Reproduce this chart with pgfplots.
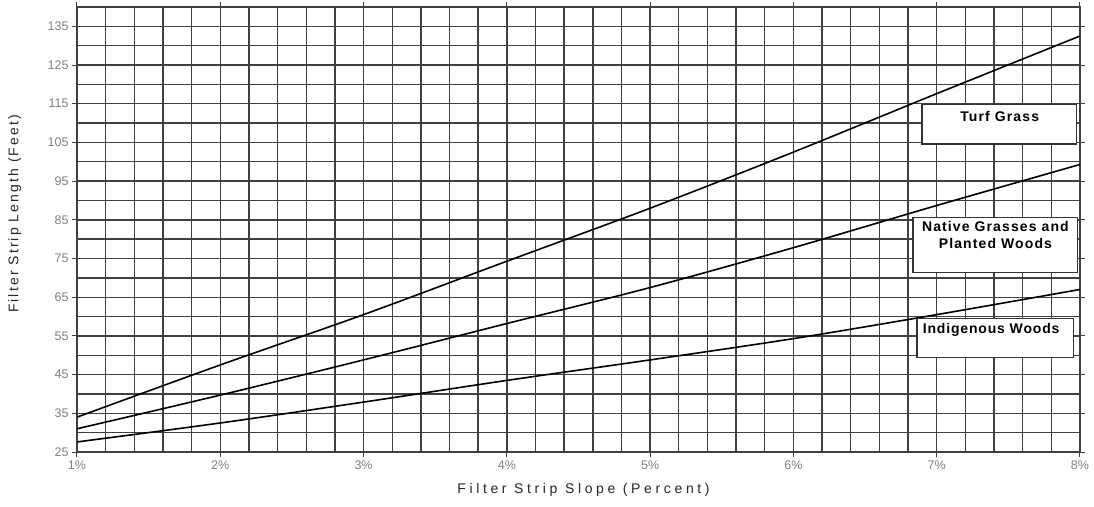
\documentclass[border=0pt]{standalone}
\usepackage{pgfplots}
\pgfplotsset{compat=1.18}
\usepackage{fontspec}
\setmainfont{Liberation Sans}
\begin{document}
\begin{tikzpicture}
\begin{axis}[
  at={(0pt,0pt)}, anchor=south west,
  width=1003pt, height=445pt, scale only axis,
  xmin=1, xmax=8, ymin=25, ymax=140,
  xtick={1,2,3,4,5,6,7,8},
  xticklabels={1\%,2\%,3\%,4\%,5\%,6\%,7\%,8\%},
  minor x tick num=4,
  ytick={25,35,45,55,65,75,85,95,105,115,125,135},
  minor y tick num=1,
  grid=both,
  major grid style={black!75, line width=1.4pt},
  minor grid style={black!75, line width=1.4pt},
  axis line style={black!75, line width=1.3pt},
  tick style={black!75, line width=1pt},
  tick align=outside, major tick length=5pt, minor tick length=0pt,
  ticklabel style={font=\fontsize{12.5}{14}\selectfont, text=black!50},
  /pgf/number format/assume math mode=true,
  every axis x label/.style={at={(axis description cs:0.505,-0.085)}, anchor=center},
  every axis y label/.style={at={(axis description cs:-0.062,0.535)}, anchor=center, rotate=90},
  xlabel={\addfontfeatures{LetterSpace=26}Filter Strip Slope (Percent)},
  ylabel={\addfontfeatures{LetterSpace=15}Filter Strip Length (Feet)},
  label style={font=\fontsize{14}{16}\selectfont, text=black!85},
]
\addplot[black, line width=1.6pt, smooth] coordinates {
  (1,34) (2,47.5) (3,60.5) (4,74.3) (5,88) (6,102.5) (7,117.6) (8,132.5)};
\addplot[black, line width=1.6pt, smooth] coordinates {
  (1,31) (2,39.7) (3,48.8) (4,58.2) (5,67.5) (6,77.8) (7,88.7) (8,99.3)};
\addplot[black, line width=1.6pt, smooth] coordinates {
  (1,27.6) (2,32.5) (3,37.9) (4,43.5) (5,48.8) (6,54.3) (7,60.5) (8,67)};
\draw[black!80, line width=1.2pt, fill=white] (axis cs:6.897,104.6) rectangle (axis cs:7.978,114.7);
\node[font=\bfseries\fontsize{14}{16}\selectfont\addfontfeatures{LetterSpace=8}, anchor=center, inner sep=0pt] at (axis cs:7.44,111.7) {Turf Grass};
\draw[black!80, line width=1.2pt, fill=white] (axis cs:6.834,71.3) rectangle (axis cs:7.985,85.5);
\node[font=\bfseries\fontsize{14}{17}\selectfont\addfontfeatures{LetterSpace=8}, anchor=north, inner sep=0pt, align=center] at (axis cs:7.41,84.6) {Native Grasses and\\Planted Woods};
\draw[black!80, line width=1.2pt, fill=white] (axis cs:6.862,49.5) rectangle (axis cs:7.957,59.6);
\node[font=\bfseries\fontsize{14}{16}\selectfont\addfontfeatures{LetterSpace=6}, anchor=center, inner sep=0pt] at (axis cs:7.38,56.6) {Indigenous Woods};
\end{axis}
\path (-77pt,-54pt) rectangle (1017pt,452pt);
\end{tikzpicture}
\end{document}
